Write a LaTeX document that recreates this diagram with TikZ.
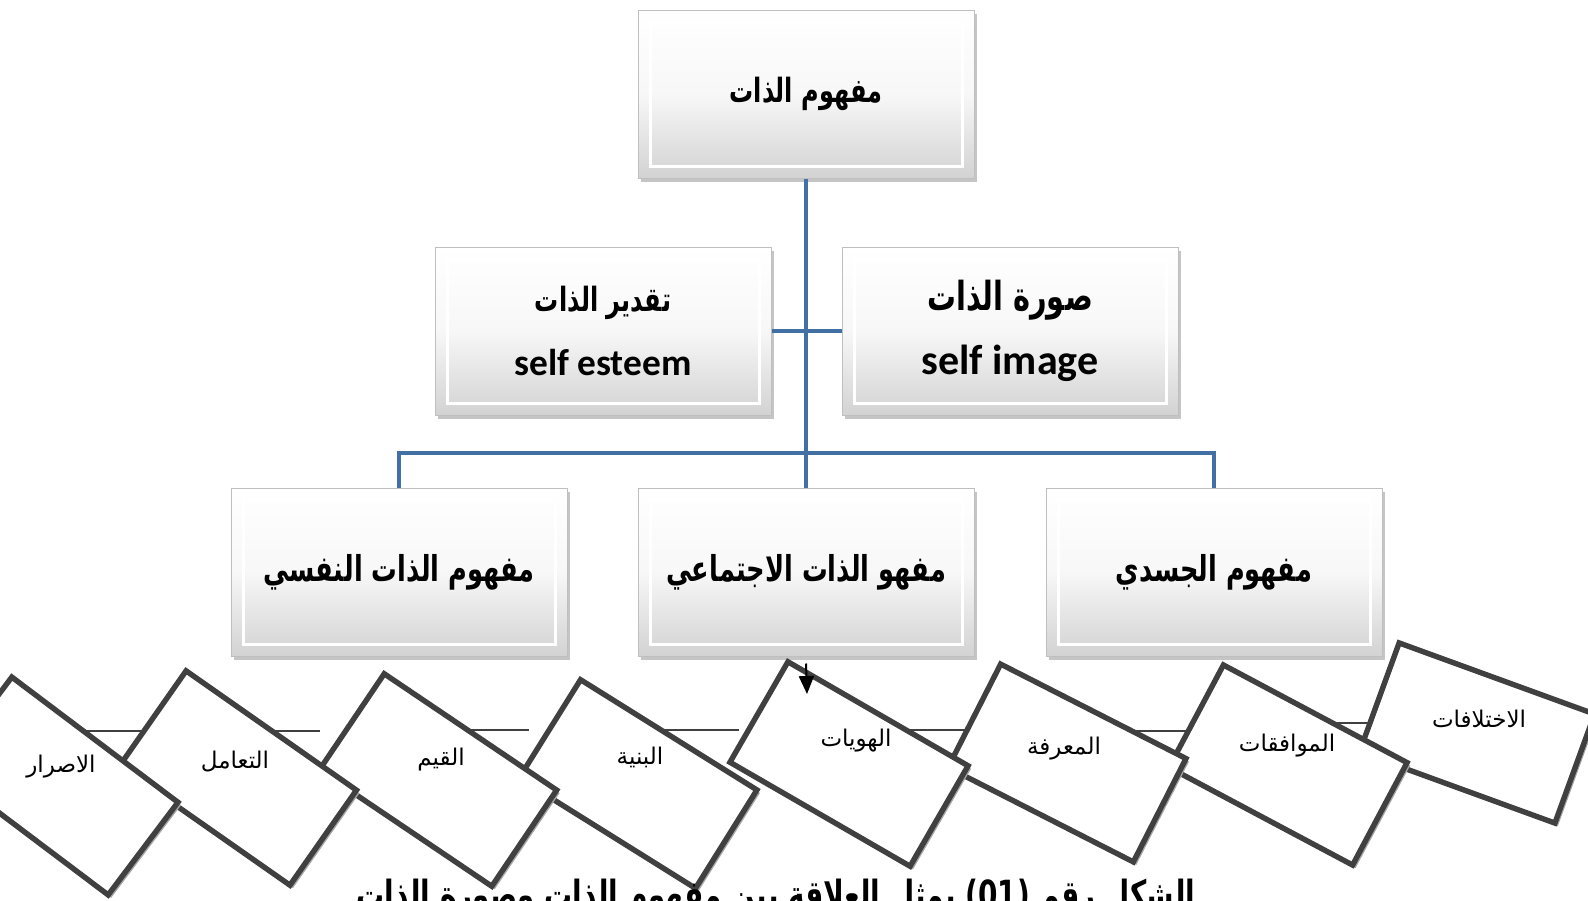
\documentclass[tikz,border=0pt]{standalone}
\usepackage{fontspec}
\usetikzlibrary{shadows,arrows.meta}
\TeXXeTstate=1
\newfontfamily\arabicfont[Script=Arabic]{DejaVu Sans}
\newfontfamily\headfont[Script=Arabic, FakeStretch=0.72]{DejaVu Sans}
\newfontfamily\latinfont{Carlito}
\definecolor{linkblue}{RGB}{66,112,165}
\definecolor{cardline}{RGB}{64,64,64}
\newcommand{\hdtext}[2]{{\headfont\bfseries\fontsize{#1}{#1}\selectfont #2}}
\newcommand{\entext}[2]{{\latinfont\bfseries\fontsize{#1}{#1}\selectfont #2}}

\begin{document}
\begin{tikzpicture}[
	x=0.5pt, y=-0.5pt,
	bevel/.style={rectangle, draw=gray!50, line width=0.5pt, minimum width=168pt, minimum height=84pt,
		inner sep=0pt, top color=white, bottom color=gray!35, middle color=gray!6,
		drop shadow={shadow xshift=1.5pt, shadow yshift=-2pt, opacity=0.45},
		path picture={\draw[white, line width=1.5pt] ([shift={(6pt,-6pt)}]path picture bounding box.north west) rectangle ([shift={(-6pt,6pt)}]path picture bounding box.south east);}},
	twoline/.style={align=center, font=\fontsize{10}{32}\selectfont},
	link/.style={draw=linkblue, line width=2.4pt},
	card/.style={rectangle, draw=cardline, line width=2.7pt, fill=white, minimum width=104pt, minimum height=58pt,
		drop shadow={shadow xshift=1.5pt, shadow yshift=-1.5pt, fill=gray!70, opacity=1}},
	cardtext/.style={font=\arabicfont\fontsize{11.5}{13}\selectfont},
	stub/.style={draw=cardline, line width=1pt}
	]
	\useasboundingbox (0,0) rectangle (1588,900);
	\clip (0,0) rectangle (1588,900);
	\fill[white] (0,0) rectangle (1588,900);
	
	% Top of the hierarchy
	\node[bevel] (self) at (806,94) {\hdtext{16.7}{\beginR مفهوم الذات\endR}};
	
	% Second row
	\node[bevel, twoline] (esteem) at (603,331) {\hdtext{16.7}{\beginR تقدير الذات\endR}\\\entext{18.7}{self esteem}};
	\node[bevel, twoline] (image) at (1010,331) {\hdtext{20}{\beginR صورة الذات\endR}\\\entext{21}{self image}};
	
	% Third row
	\node[bevel] (psych) at (399,572) {\hdtext{17.8}{\beginR مفهوم الذات النفسي\endR}};
	\node[bevel] (social) at (806,572) {\hdtext{17.8}{\beginR مفهو الذات الاجتماعي\endR}};
	\node[bevel] (body) at (1214,572) {\hdtext{17.8}{\beginR مفهوم الجسدي\endR}};
	
	% Blue links
	\coordinate (bus) at (806,453);
	\draw[link] (self.south) -- (social.north);
	\draw[link] (esteem.east) -- (image.west);
	\draw[link] (psych.north) |- (bus) -| (body.north);
	
	% Short lines behind the cards
	\foreach \xa/\xb/\y in {70/148/731,242/320/731,451/529/730,660/739/730,891/968/730,1111/1188/731,1298/1377/723}
		\draw[stub] (\xa,\y) -- (\xb,\y);
	
	% Tilted cards, right to left
	\foreach \n/\cx/\cy/\a in {8/1477/733/20,7/1288/765/28,6/1067/763/27,5/849/764/30,4/638/784/32,3/438/780/34,2/238/778/35,1/60/786/37}
		\node[card, rotate=-\a] (k\n) at (\cx,\cy) {};
	
	\foreach \n/\tx/\ty/\w in {1/61/767/الاصرار,2/235/761/التعامل,3/441/760/القيم,4/640/757/البنية,5/856/741/الهويات,6/1064/749/المعرفة,7/1287/746/الموافقات,8/1479/719/الاختلافات}
		\node[cardtext] (t\n) at (\tx,\ty) {\beginR\w\endR};
	
	% Small arrow
	\coordinate (tip) at (807,694);
	\draw[-{Triangle[length=9pt,width=7.5pt]}, line width=1pt] ([yshift=-3.5pt]social.south) -- (tip);
	
	% Caption, cut by the page edge
	\node[anchor=base] (caption) at (776,908) {\hdtext{19.4}{\beginR الشكل رقم \beginL(01)\endL{} يمثل العلاقة بين مفهوم الذات وصورة الذات\endR}};
\end{tikzpicture}
\end{document}
